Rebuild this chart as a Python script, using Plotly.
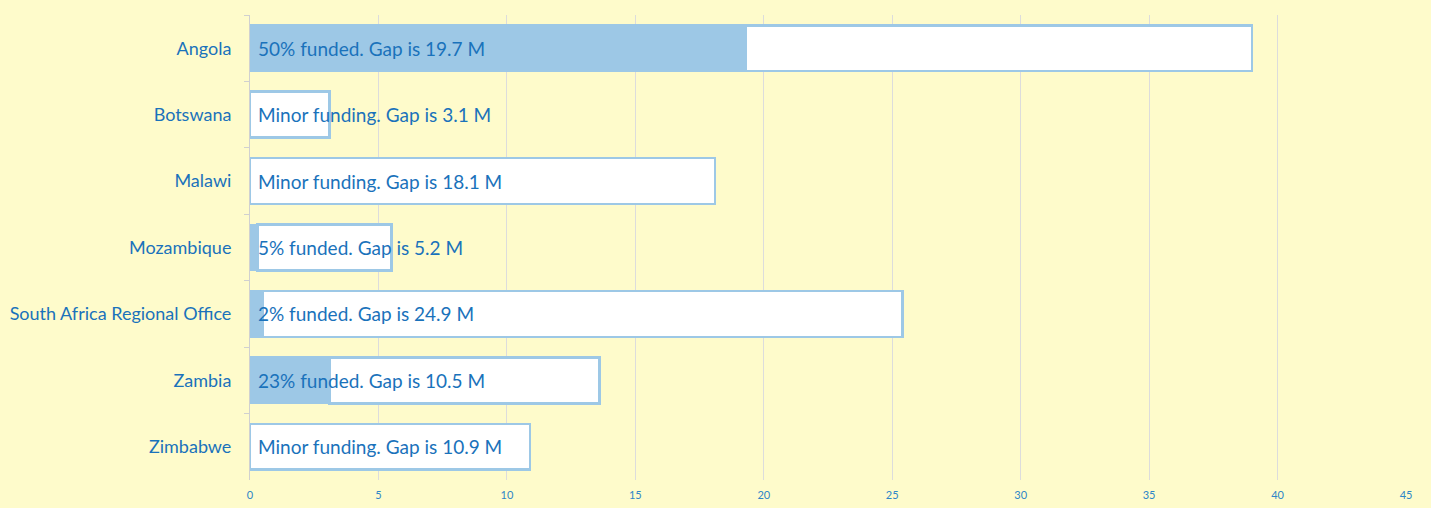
import plotly.graph_objects as go

countries = ["Angola", "Botswana", "Malawi", "Mozambique",
             "South Africa Regional Office", "Zambia", "Zimbabwe"]
funded = [19.3, 0, 0, 0.3, 0.5, 3.1, 0]
gap = [19.7, 3.1, 18.1, 5.2, 24.9, 10.5, 10.9]
labels = ["50% funded. Gap is 19.7 M", "Minor funding. Gap is 3.1 M",
          "Minor funding. Gap is 18.1 M", "5% funded. Gap is 5.2 M",
          "2% funded. Gap is 24.9 M", "23% funded. Gap is 10.5 M",
          "Minor funding. Gap is 10.9 M"]
x_ticks = [0, 5, 10, 15, 20, 25, 30, 35, 40, 45]

BG = "#FEFBCB"
EDGE = "#9DC8E6"
TXT = "#1A72BB"
FONT = "Lato, Carlito, sans-serif"

fig = go.Figure()
fig.add_trace(go.Bar(y=countries, x=funded, orientation="h", name="Funded",
                     marker=dict(color=EDGE, line=dict(color=EDGE, width=2)),
                     width=0.69, hoverinfo="x+y"))
fig.add_trace(go.Bar(y=countries, x=gap, orientation="h", name="Gap",
                     marker=dict(color="white", line=dict(color=EDGE, width=2.5)),
                     width=0.69, hoverinfo="x+y"))

for c, t in zip(countries, labels):
    fig.add_annotation(x=0, y=c, text=t, xanchor="left", yanchor="middle",
                       xshift=6, showarrow=False,
                       font=dict(family=FONT, size=19, color=TXT))

fig.update_layout(
    barmode="stack",
    width=1431, height=508,
    paper_bgcolor=BG, plot_bgcolor=BG,
    margin=dict(l=250, r=25, t=15, b=28),
    showlegend=False,
    font=dict(family=FONT, color=TXT),
    xaxis=dict(range=[0, 45], tickvals=x_ticks, showgrid=True,
               gridcolor="#DCDCDC", gridwidth=1, zeroline=False,
               tickfont=dict(size=11, color="#2E86C8"), ticks="",
               ticklabelstandoff=7, showline=False, automargin=False),
    yaxis=dict(autorange="reversed", tickson="boundaries", ticks="outside",
               ticklen=5, tickcolor="#D0D0D0", showline=True, linecolor="#D0D0D0",
               linewidth=1, tickfont=dict(size=18, color=TXT),
               ticklabelstandoff=14, showgrid=False, automargin=False),
)

fig.write_html("out.html", config={"displayModeBar": False},
               post_script="document.body.style.margin='0';document.body.style.background='%s';" % BG)
